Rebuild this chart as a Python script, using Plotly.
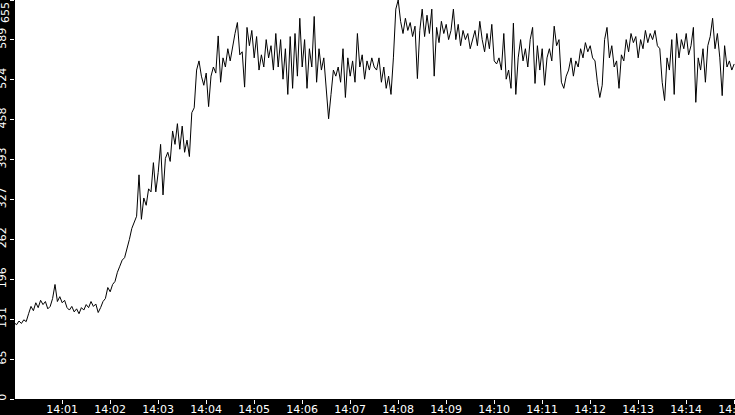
import pandas as pd
import plotly.graph_objects as go

# samples every 3 s starting at 14:00:00
start = "2024-01-01 14:00:00"
step_s = 3

values = [
    125, 122, 128, 124, 130, 127, 140, 152, 145, 158,
    150, 162, 155, 160, 148, 152, 165, 188, 160, 168,
    158, 162, 150, 146, 152, 143, 148, 140, 150, 146,
    155, 150, 160, 152, 156, 142, 150, 160, 165, 183,
    176, 188, 193, 208, 218, 228, 232, 245, 262, 280,
    290, 300, 368, 295, 330, 318, 345, 340, 388, 340,
    372, 418, 335, 395, 405, 390, 440, 418, 452, 410,
    448, 405, 425, 398, 470, 478, 540, 555, 530, 515,
    535, 480, 530, 545, 535, 596, 520, 560, 545, 575,
    555, 580, 600, 618, 565, 570, 512, 610, 580, 605,
    560, 595, 540, 565, 545, 590, 560, 580, 540, 600,
    545, 590, 525, 575, 500, 595, 510, 600, 530, 625,
    545, 590, 510, 575, 545, 628, 520, 575, 540, 560,
    505, 460, 500, 540, 530, 545, 520, 575, 495, 560,
    530, 555, 520, 600, 545, 565, 525, 555, 540, 560,
    545, 540, 560, 520, 545, 510, 530, 500, 560, 640,
    655, 620, 600, 625, 605, 618, 595, 612, 526, 605,
    640, 595, 630, 600, 640, 530, 610, 585, 620, 600,
    615, 590, 605, 640, 590, 615, 580, 605, 590, 600,
    575, 590, 605, 580, 620, 590, 570, 600, 575, 615,
    555, 550, 560, 540, 600, 525, 540, 510, 617, 500,
    560, 590, 555, 575, 545, 590, 610, 518, 580, 540,
    575, 515, 560, 575, 555, 612, 580, 590, 520, 510,
    530, 540, 560, 530, 555, 545, 575, 560, 585, 570,
    580, 560, 555, 520, 495, 515, 590, 610, 560, 580,
    545, 555, 510, 565, 555, 590, 570, 600, 585, 595,
    560, 590, 575, 605, 585, 600, 590, 605, 580, 575,
    520, 490, 560, 540, 590, 500, 600, 560, 590, 575,
    600, 565, 580, 610, 487, 560, 540, 575, 520, 580,
    595, 625, 575, 600, 560, 498, 580, 545, 555, 540,
    550,
]

y_max = 655
y_ticks = [0, 65.5, 131, 196.5, 262, 327.5, 393, 458.5, 524, 589.5, 655]
y_labels = ["0", "65", "131", "196", "262", "327", "393", "458", "524", "589", ""]

times = pd.date_range(start, periods=len(values), freq=f"{step_s}s")

fig = go.Figure()
fig.add_trace(go.Scatter(
    x=times, y=values,
    mode="lines",
    line=dict(color="black", width=1),
    showlegend=False,
    hoverinfo="skip",
))

font = dict(family="DejaVu Sans", size=11, color="white")

fig.update_layout(
    width=735, height=415,
    margin=dict(l=15, r=0, t=0, b=16),
    paper_bgcolor="black",
    plot_bgcolor="white",
    font=font,
    xaxis=dict(
        range=["2024-01-01 14:00:01", "2024-01-01 14:15:01"],
        tickformat="%H:%M",
        dtick=60000,
        tick0="2024-01-01 14:00:00",
        ticks="outside", ticklen=4, tickcolor="white", tickwidth=1,
        showgrid=False, zeroline=False,
        ticklabeloverflow="allow",
        ticklabelstandoff=-4,
        automargin=False,
        tickfont=font,
    ),
    yaxis=dict(
        range=[0, y_max],
        tickmode="array", tickvals=y_ticks, ticktext=y_labels,
        tickangle=-90,
        ticks="outside", ticklen=4, tickcolor="white", tickwidth=1,
        showgrid=False, zeroline=False,
        ticklabeloverflow="allow",
        automargin=False,
        tickfont=font,
    ),
    annotations=[dict(
        text=str(y_max), textangle=-90,
        xref="paper", yref="paper", x=0, y=1,
        xanchor="right", yanchor="top", xshift=-1,
        showarrow=False, font=font,
    )],
)

# drop the page's default body margin so the chart sits at the window corner
fig.write_html(
    "out.html",
    config={"displayModeBar": False, "staticPlot": True},
    post_script="document.body.style.margin='0';document.body.style.overflow='hidden';",
)
